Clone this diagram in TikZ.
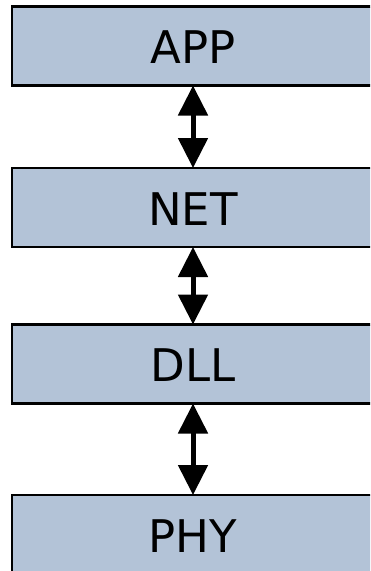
\documentclass[tikz,border=0pt]{standalone}
\usepackage{fontspec}
\setmainfont{DejaVu Sans}
\usetikzlibrary{arrows.meta}
\definecolor{boxfill}{RGB}{179,195,215}
\tikzset{
  layer/.style={draw=black, line width=2.5pt, fill=boxfill, minimum width=362pt, minimum height=79pt,
    inner sep=0pt, outer sep=0pt, font=\fontsize{45pt}{50pt}\selectfont, text height=35pt, text depth=0pt},
  link/.style={line width=5pt, {Triangle[length=30pt,width=29pt]}-{Triangle[length=30pt,width=29pt]}}
}
\begin{document}
\begin{tikzpicture}[x=1pt,y=-1pt]
\useasboundingbox (0,0) rectangle (370,571);
\clip (0,0) rectangle (370,571);
\node[layer] (app) at (193,46) {APP};
\node[layer] (net) at (193,207.5) {NET};
\node[layer] (dll) at (193,364) {DLL};
\node[layer] (phy) at (193,534.5) {PHY};
\draw[link] (app.south) -- (net.north);
\draw[link] (net.south) -- (dll.north);
\draw[link] (dll.south) -- (phy.north);
\end{tikzpicture}
\end{document}
